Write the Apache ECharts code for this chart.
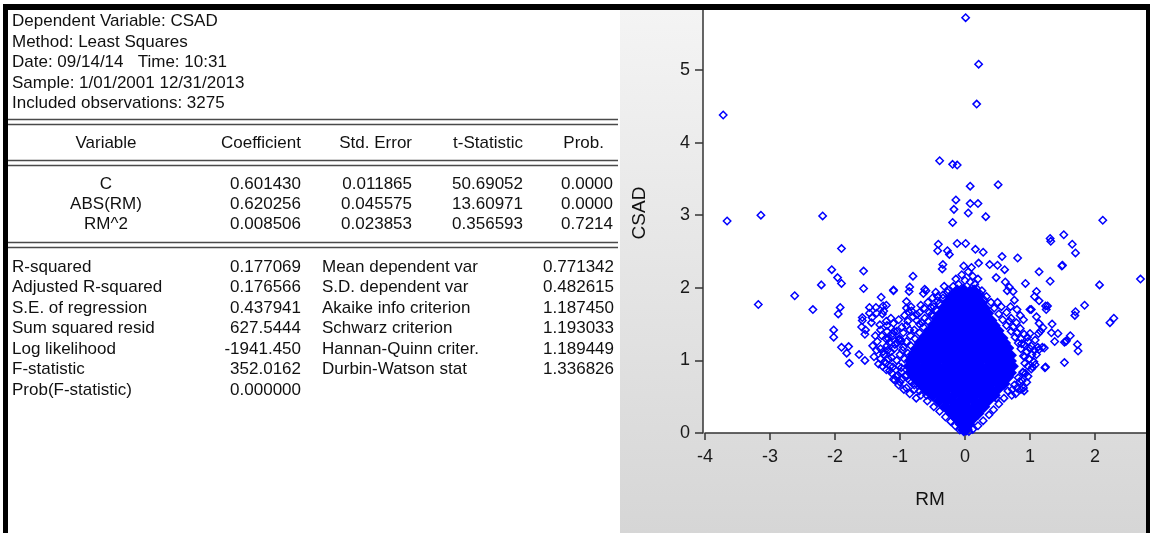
<!DOCTYPE html>
<html>
<head>
<meta charset="utf-8">
<script src="https://cdn.jsdelivr.net/npm/echarts@6/dist/echarts.min.js"></script>
<style>
html, body { margin: 0; padding: 0; background: #ffffff; }
#chart { width: 1150px; height: 533px; }
</style>
</head>
<body>
<div id="chart"></div>
<script>
// ---- Regression output (EViews style) ----
const headerLines = [
  'Dependent Variable: CSAD',
  'Method: Least Squares',
  'Date: 09/14/14   Time: 10:31',
  'Sample: 1/01/2001 12/31/2013',
  'Included observations: 3275'
];
const colHeads = ['Variable', 'Coefficient', 'Std. Error', 't-Statistic', 'Prob.'];
const varNames = ['C', 'ABS(RM)', 'RM^2'];
const coefVals = ['0.601430', '0.620256', '0.008506'];
const stdErrVals = ['0.011865', '0.045575', '0.023853'];
const tStatVals = ['50.69052', '13.60971', '0.356593'];
const probVals = ['0.0000', '0.0000', '0.7214'];
const statLabelsLeft = ['R-squared', 'Adjusted R-squared', 'S.E. of regression', 'Sum squared resid',
  'Log likelihood', 'F-statistic', 'Prob(F-statistic)'];
const statValuesLeft = ['0.177069', '0.176566', '0.437941', '627.5444', '-1941.450', '352.0162', '0.000000'];
const statLabelsRight = ['Mean dependent var', 'S.D. dependent var', 'Akaike info criterion',
  'Schwarz criterion', 'Hannan-Quinn criter.', 'Durbin-Watson stat'];
const statValuesRight = ['0.771342', '0.482615', '1.187450', '1.193033', '1.189449', '1.336826'];

// ---- Scatter: CSAD against RM ----
const xTicks = [-4, -3, -2, -1, 0, 1, 2];
const yTicks = [0, 1, 2, 3, 4, 5];
const xName = 'RM';
const yName = 'CSAD';

// isolated observations [RM, CSAD]
const rmOuter = [
  [0.01,5.72],[0.21,5.08],[0.18,4.53],[-3.72,4.38],
  [-0.39,3.75],[-0.19,3.70],[-0.12,3.69],[0.51,3.42],[0.08,3.40],
  [-3.66,2.92],[-3.14,3.00],[-2.19,2.99],[2.12,2.93],
  [-0.14,3.21],[-0.17,3.08],[-0.19,2.90],[0.05,3.03],[0.08,3.16],[0.20,3.16],[0.32,2.98],
  [1.32,2.64],[1.52,2.73],[1.65,2.60],[1.70,2.48],[2.70,2.12],
  [-1.90,2.54],[-2.05,2.25],[-1.96,2.14],[-1.90,2.06],[-2.21,2.04],[-1.56,2.23],[-1.56,1.99],
  [-2.62,1.89],[-3.18,1.77],[-2.34,1.70],[-1.95,1.64],[-1.92,1.73],[-2.02,1.32],[-2.02,1.42],
  [-0.80,2.16],[-0.86,1.95],[-1.10,1.96],[-0.60,1.96],[-0.64,1.92],[-0.42,1.88],[-0.35,2.26],
  [-0.41,2.60],[-0.42,2.51],[-0.27,2.51],[-0.24,2.46],[-0.12,2.61],[0.01,2.61],[0.16,2.53],[0.28,2.49],
  [0.57,2.43],[0.81,2.41],[1.14,2.22],[1.49,2.30],[1.31,2.09],[2.07,2.04],[1.84,1.76],[1.69,1.62],
  [2.23,1.52],[2.29,1.58],[0.93,2.06],[0.61,2.25],[0.48,2.14],[0.38,2.32],[0.21,2.34],[0.62,2.08],
  [0.65,1.96],[0.74,1.95],[0.68,2.01],[1.07,1.88],[1.14,1.82],[1.10,1.95],[1.25,1.70],[1.27,1.75],
  [1.02,1.70],[0.85,1.62],[0.76,1.83],[0.50,2.31],[-0.34,2.32],
  [1.53,1.25],[1.74,1.13],[1.13,1.37],[1.16,1.40],[1.34,1.50],[1.38,1.26],[1.70,1.67],
  [-1.47,1.65],[-1.36,1.65],[-1.25,1.68],[-1.21,1.54],[-1.44,1.52],[-1.59,1.46],[-1.54,1.36],
  [-1.09,1.40],[-0.90,1.72],[-0.87,1.67],[-0.74,1.55],[-0.52,1.63],[-0.98,1.27],[-0.90,1.81],
  [-1.82,1.10],[-1.90,1.18],[-1.79,1.19],[-1.78,0.96],[-1.54,1.00],[-1.63,1.08],
  [1.53,0.97],[1.55,1.26],[1.73,1.22],[1.23,0.90],[1.19,1.18],[0.89,0.83],[0.91,0.58],
  [-1.58,1.55],[-1.47,1.73],[-1.43,1.59],[-1.27,1.64],[-1.10,1.51],[-0.74,1.63],[-0.66,1.52],
  [-1.37,1.73],[-1.26,1.75],[-1.29,1.87],[-1.21,1.76],[-1.10,1.97],[-0.85,2.01],[-0.62,1.98],
  [-0.83,1.74],[-0.52,1.73],[-1.58,1.59],[-1.53,1.42],[-1.31,1.49],[-1.20,1.40],[-1.11,1.37],
  [1.24,1.75],[1.14,1.51],[1.20,1.45],[1.33,1.38],[1.43,1.37],[1.56,1.27],[1.62,1.34],[1.22,1.17],
  [1.07,1.14],[1.14,1.15],[1.24,0.91],[1.04,0.91],[0.97,0.78],[0.90,0.62],[0.73,0.60],
  [1.00,1.37],[0.90,1.56],[0.80,1.70],[0.70,1.74],[1.00,1.70],[1.10,1.60],[0.87,1.23],
  [0.92,1.05],[1.50,2.31],[1.31,2.68]
];

// observations close to the central mass [RM, CSAD]
const rmFringe = [
  [-0.70,0.58],[-0.78,0.66],[-0.85,0.72],[-0.92,0.78],[-0.98,0.84],[-1.02,0.92],[-1.05,1.00],
  [-1.00,1.08],[-0.95,1.18],[-0.90,1.26],[-0.84,1.34],[-0.78,1.42],[-0.70,1.50],[-0.62,1.58],
  [-0.55,1.66],[-0.48,1.74],[-0.42,1.82],[-0.34,1.90],[-0.26,1.97],
  [-1.12,0.82],[-1.15,0.92],[-1.18,1.02],[-1.14,1.12],[-1.08,1.22],[-1.01,1.30],[-0.95,1.38],
  [-0.90,1.48],[-1.22,0.96],[-1.25,1.08],[-1.20,1.20],[-1.10,0.74],[-1.02,0.66],[-0.94,0.60],
  [-0.85,0.54],[-1.30,1.16],[-1.35,1.26],[-1.28,1.34],[-1.18,1.30],[-1.40,1.05],[-1.33,0.95],
  [-1.24,0.98],[-1.21,0.87],[-1.08,0.73],[-0.90,0.62],[-0.75,0.48],[-0.59,0.52],
  [-1.11,0.91],[-1.03,0.80],[-1.19,1.14],[-0.96,1.14],[-1.01,1.28],[-0.85,1.42],
  [-1.00,0.70],[-1.06,0.78],[-0.97,0.74],[-1.16,0.86],[-1.27,0.92],[-1.30,1.02],[-1.26,1.12],
  [-1.13,1.04],[-1.09,1.16],[-1.04,1.24],[-1.16,1.24],[-1.22,1.30],[-1.12,1.33],[-1.05,1.40],
  [-0.97,1.46],[-0.88,1.54],[-0.80,1.60],[-0.70,1.66],[-0.63,1.72],[-0.57,1.80],[-0.50,1.86],
  [-0.45,1.94],[-0.32,2.02],[-1.36,1.14],[-1.42,1.20],[-1.38,1.34],[-1.30,1.42],[-1.20,1.48],
  [-1.14,1.58],[-1.02,1.56],[-0.93,1.62],[-0.82,1.68],[-0.68,1.76],[-0.98,0.90],[-0.93,1.02],
  [-0.88,1.10],[-0.83,1.20],[-0.77,1.30],[-0.70,1.38],[-0.64,1.46],[-0.57,1.54],[-0.50,1.62],
  [-0.45,1.70],[-0.40,1.78],[-0.34,1.86],[-0.27,1.94],[-0.82,0.70],[-0.90,0.80],[-0.78,0.60],
  [-0.68,0.52],[-0.58,0.44],[-0.48,0.36],[-0.39,0.30],[-0.30,0.22],[-0.22,0.16],[-0.15,0.10],
  [-0.08,0.04],
  [0.76,0.66],[0.82,0.76],[0.89,0.84],[0.92,0.96],[0.90,1.06],[0.86,1.16],[0.82,1.24],[0.77,1.32],
  [0.71,1.40],[0.64,1.48],[0.58,1.56],[0.52,1.64],[0.45,1.72],[0.40,1.80],[0.33,1.88],[0.26,1.96],
  [1.02,0.88],[1.08,0.94],[1.03,1.08],[1.00,1.16],[1.12,1.18],[0.97,1.26],[0.91,1.36],[0.85,1.44],
  [0.79,1.52],[0.71,1.58],[0.64,1.66],[0.56,1.74],[0.50,1.80],[0.66,0.58],[0.60,0.48],[0.52,0.40],
  [0.44,0.32],[0.37,0.25],[0.28,0.17],[0.20,0.10],[0.12,0.05],[0.95,0.70],[0.86,0.60],[0.78,0.54],
  [0.93,0.82],[0.97,0.92],[0.99,1.02],[0.95,1.12],[0.91,1.22],[0.86,1.30],[0.80,1.38],[0.74,1.46],
  [0.68,1.54],[0.88,0.72],[0.80,0.62],[0.72,0.52],[1.06,0.98],[1.10,1.08],[1.02,1.20],[0.96,1.32],
  [1.08,1.28],[0.48,0.48],[0.84,0.71],[0.18,1.99],[0.24,1.91],[0.30,1.83],[0.06,0.02],
  [-0.10,2.05],[0.00,2.10],[0.08,2.08],[0.15,2.05],[-0.05,2.18],[0.05,2.22],[0.12,2.16],
  [-0.18,2.02],[0.20,2.12],[-0.02,2.30],[0.10,2.28],[-0.14,2.12],[0.00,0.03]
];

// dense central mass [RM, CSAD]
const rmCore = [
  [-0.02,0.04],[0.02,0.05],
  [-0.06,0.12],[0.00,0.11],[0.06,0.12],
  [-0.13,0.20],[-0.04,0.19],[0.04,0.21],[0.12,0.20],
  [-0.21,0.28],[-0.11,0.27],[-0.01,0.29],[0.09,0.28],[0.20,0.27],
  [-0.30,0.36],[-0.19,0.35],[-0.08,0.37],[0.03,0.36],[0.14,0.35],[0.25,0.37],[0.29,0.36],
  [-0.40,0.44],[-0.29,0.45],[-0.18,0.43],[-0.07,0.44],[0.04,0.45],[0.15,0.43],[0.26,0.44],[0.36,0.45],
  [-0.50,0.52],[-0.39,0.53],[-0.28,0.51],[-0.17,0.52],[-0.06,0.53],[0.05,0.51],[0.16,0.52],[0.27,0.53],[0.38,0.51],[0.45,0.52],
  [-0.60,0.60],[-0.49,0.61],[-0.38,0.59],[-0.27,0.60],[-0.16,0.61],[-0.05,0.59],[0.06,0.60],[0.17,0.61],[0.28,0.59],[0.39,0.60],[0.51,0.61],
  [-0.69,0.68],[-0.58,0.69],[-0.47,0.67],[-0.36,0.68],[-0.25,0.69],[-0.14,0.67],[-0.03,0.68],[0.08,0.69],[0.19,0.67],[0.30,0.68],[0.41,0.69],[0.52,0.67],[0.60,0.68],
  [-0.77,0.76],[-0.66,0.77],[-0.55,0.75],[-0.44,0.76],[-0.33,0.77],[-0.22,0.75],[-0.11,0.76],[0.00,0.77],[0.11,0.75],[0.22,0.76],[0.33,0.77],[0.44,0.75],[0.55,0.76],[0.66,0.77],
  [-0.83,0.84],[-0.72,0.85],[-0.61,0.83],[-0.50,0.84],[-0.39,0.85],[-0.28,0.83],[-0.17,0.84],[-0.06,0.85],[0.05,0.83],[0.16,0.84],[0.27,0.85],[0.38,0.83],[0.49,0.84],[0.60,0.85],[0.70,0.83],
  [-0.86,0.92],[-0.76,0.93],[-0.65,0.91],[-0.54,0.92],[-0.43,0.93],[-0.32,0.91],[-0.21,0.92],[-0.10,0.93],[0.01,0.91],[0.12,0.92],[0.23,0.93],[0.34,0.91],[0.45,0.92],[0.56,0.93],[0.66,0.91],[0.73,0.92],
  [-0.84,1.00],[-0.73,1.01],[-0.62,0.99],[-0.51,1.00],[-0.40,1.01],[-0.29,0.99],[-0.18,1.00],[-0.07,1.01],[0.04,0.99],[0.15,1.00],[0.26,1.01],[0.37,0.99],[0.48,1.00],[0.59,1.01],[0.70,0.99],
  [-0.80,1.08],[-0.69,1.09],[-0.58,1.07],[-0.47,1.08],[-0.36,1.09],[-0.25,1.07],[-0.14,1.08],[-0.03,1.09],[0.08,1.07],[0.19,1.08],[0.30,1.09],[0.41,1.07],[0.52,1.08],[0.63,1.09],[0.70,1.07],
  [-0.75,1.16],[-0.64,1.17],[-0.53,1.15],[-0.42,1.16],[-0.31,1.17],[-0.20,1.15],[-0.09,1.16],[0.02,1.17],[0.13,1.15],[0.24,1.16],[0.35,1.17],[0.46,1.15],[0.57,1.16],[0.66,1.17],
  [-0.69,1.24],[-0.58,1.25],[-0.47,1.23],[-0.36,1.24],[-0.25,1.25],[-0.14,1.23],[-0.03,1.24],[0.08,1.25],[0.19,1.23],[0.30,1.24],[0.41,1.25],[0.52,1.23],[0.61,1.24],
  [-0.62,1.32],[-0.51,1.33],[-0.40,1.31],[-0.29,1.32],[-0.18,1.33],[-0.07,1.31],[0.04,1.32],[0.15,1.33],[0.26,1.31],[0.37,1.32],[0.48,1.33],[0.57,1.31],
  [-0.55,1.40],[-0.45,1.41],[-0.34,1.39],[-0.23,1.40],[-0.12,1.41],[-0.01,1.39],[0.10,1.40],[0.21,1.41],[0.32,1.39],[0.43,1.40],[0.51,1.41],
  [-0.48,1.48],[-0.39,1.49],[-0.28,1.47],[-0.17,1.48],[-0.06,1.49],[0.05,1.47],[0.16,1.48],[0.27,1.49],[0.38,1.47],[0.45,1.48],
  [-0.42,1.56],[-0.32,1.57],[-0.21,1.55],[-0.10,1.56],[0.01,1.57],[0.12,1.55],[0.23,1.56],[0.34,1.57],[0.40,1.55],
  [-0.37,1.64],[-0.26,1.65],[-0.15,1.63],[-0.04,1.64],[0.07,1.65],[0.18,1.63],[0.29,1.64],[0.35,1.65],
  [-0.33,1.72],[-0.22,1.73],[-0.11,1.71],[0.00,1.72],[0.11,1.73],[0.22,1.71],[0.30,1.72],
  [-0.27,1.80],[-0.16,1.81],[-0.05,1.79],[0.06,1.80],[0.17,1.81],[0.25,1.79],
  [-0.20,1.88],[-0.10,1.89],[0.01,1.87],[0.12,1.88],[0.20,1.89],
  [-0.12,1.96],[-0.02,1.97],[0.08,1.95],[0.14,1.96]
];

const FONT = "'Liberation Sans', Arial, sans-serif";
const BLUE = '#0000ff';

const chart = echarts.init(document.getElementById('chart'), null, { renderer: 'canvas' });

// text and rule elements of the regression table
const elems = [];
function txt(x, y, s, align, size) {
  elems.push({
    type: 'text', x: x, y: y, z: 5, silent: true,
    style: { text: s, fill: '#111111', font: (size || 17) + 'px ' + FONT,
             align: align || 'left', verticalAlign: 'middle' }
  });
}
function rule(y) {
  elems.push({
    type: 'line', z: 5, silent: true,
    shape: { x1: 8, y1: y, x2: 618, y2: y },
    style: { stroke: '#4a4a4a', lineWidth: 1.6 }
  });
}

// panel backgrounds
elems.push({
  type: 'rect', z: -10, silent: true,
  shape: { x: 620, y: 10, width: 526, height: 523 },
  style: { fill: new echarts.graphic.LinearGradient(0, 0, 0, 1, [
    { offset: 0, color: '#f4f4f4' }, { offset: 1, color: '#d6d6d6' }]) }
});
elems.push({
  type: 'rect', z: -9, silent: true,
  shape: { x: 703, y: 10, width: 443, height: 423 },
  style: { fill: '#ffffff' }
});

// header block
headerLines.forEach((s, i) => txt(12, 21.5 + i * 20.5, s));
rule(119.5); rule(124.5);

const colRight = [301, 412, 523, 604];
const varCenter = 106;
txt(varCenter, 143, colHeads[0], 'center');
for (let c = 1; c < colHeads.length; c++) txt(colRight[c - 1], 143, colHeads[c], 'right');
rule(160.5); rule(165.5);

const valRight = [301, 412, 523, 613];
varNames.forEach((v, r) => {
  const y = 184 + r * 20.3;
  txt(varCenter, y, v, 'center');
  txt(valRight[0], y, coefVals[r], 'right');
  txt(valRight[1], y, stdErrVals[r], 'right');
  txt(valRight[2], y, tStatVals[r], 'right');
  txt(valRight[3], y, probVals[r], 'right');
});
rule(242.5); rule(247.5);

statLabelsLeft.forEach((s, r) => {
  const y = 267 + r * 20.5;
  txt(12, y, s);
  txt(301, y, statValuesLeft[r], 'right');
  if (r < statLabelsRight.length) {
    txt(322, y, statLabelsRight[r]);
    txt(614, y, statValuesRight[r], 'right');
  }
});

// axis titles
elems.push({
  type: 'text', x: 640, y: 213, rotation: Math.PI / 2, z: 5, silent: true,
  style: { text: yName, fill: '#111111', font: '19px ' + FONT, align: 'center', verticalAlign: 'middle' }
});
elems.push({
  type: 'text', x: 930, y: 500, z: 5, silent: true,
  style: { text: xName, fill: '#111111', font: '19px ' + FONT, align: 'center', verticalAlign: 'middle' }
});

// window frame
[[3, 4, 1147, 6], [3, 4, 5, 529], [1146, 4, 4, 529]].forEach(r => elems.push({
  type: 'rect', z: 100, silent: true,
  shape: { x: r[0], y: r[1], width: r[2], height: r[3] },
  style: { fill: '#000000' }
}));

const axisLineStyle = { color: '#333333', width: 1.5 };
const labelStyle = { fontSize: 18, fontFamily: FONT, color: '#1a1a1a' };

chart.setOption({
  animation: false,
  backgroundColor: '#ffffff',
  graphic: { elements: elems },
  grid: { left: 705, right: 4, top: 10, bottom: 100, containLabel: false },
  xAxis: {
    type: 'value', min: -4, max: 2.785,
    axisLine: { show: true, onZero: false, lineStyle: axisLineStyle },
    axisTick: { show: true, inside: false, length: 7, customValues: xTicks, lineStyle: axisLineStyle },
    axisLabel: Object.assign({ margin: 15, customValues: xTicks }, labelStyle),
    splitLine: { show: false }
  },
  yAxis: {
    type: 'value', min: 0, max: 5.826, offset: 2,
    axisLine: { show: true, onZero: false, lineStyle: axisLineStyle },
    axisTick: { show: true, inside: false, length: 8, customValues: yTicks, lineStyle: axisLineStyle },
    axisLabel: Object.assign({ margin: 13, customValues: yTicks }, labelStyle),
    splitLine: { show: false }
  },
  series: [
    {
      type: 'scatter', data: rmCore, symbol: 'diamond', symbolSize: 13,
      itemStyle: { color: BLUE, opacity: 1 }, silent: true, z: 2
    },
    {
      type: 'scatter', data: rmFringe.concat(rmOuter), symbol: 'diamond', symbolSize: 7.4,
      itemStyle: { color: 'rgba(0,0,255,0)', borderColor: BLUE, borderWidth: 1.5, opacity: 1 },
      silent: true, z: 3
    }
  ]
});
</script>
</body>
</html>
